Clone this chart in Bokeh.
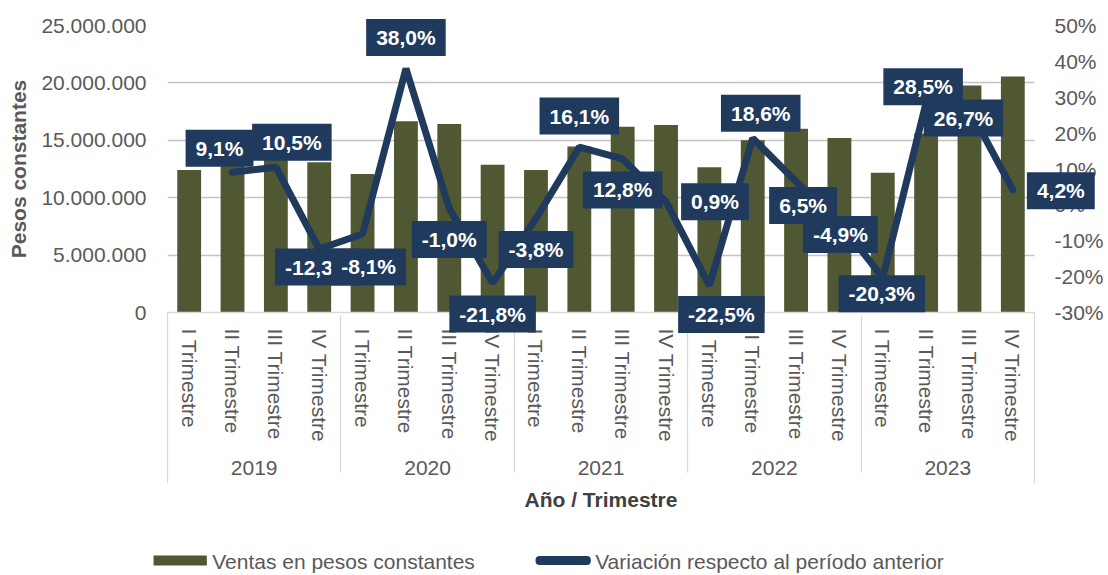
from bokeh.plotting import figure
from bokeh.models import (FactorRange, Range1d, LinearAxis, FixedTicker, ColumnDataSource)
from bokeh.core.properties import value
from bokeh.embed import file_html
from bokeh.resources import INLINE

# ---------------- data ----------------
years = ["2019", "2020", "2021", "2022", "2023"]
quarters = ["I Trimestre", "II Trimestre", "III Trimestre", "IV Trimestre"]

ventas = [12420000, 12950000, 13650000, 13080000,
          12070000, 16660000, 16430000, 12860000,
          12420000, 14450000, 16190000, 16340000,
          12650000, 15000000, 16000000, 15200000,
          12180000, 15600000, 19770000, 20550000]

# variation vs previous period (from 2019 II onwards), in %
variacion = [9.1, 10.5, -12.3, -8.1, 38.0, -1.0, -21.8, -3.8, 16.1, 12.8,
             0.9, -22.5, 18.6, 6.5, -4.9, -20.3, 28.5, 26.7, 4.2]

left_ticks = [0, 5000000, 10000000, 15000000, 20000000, 25000000]
left_tick_labels = ["0", "5.000.000", "10.000.000", "15.000.000", "20.000.000", "25.000.000"]
right_ticks = [-30, -20, -10, 0, 10, 20, 30, 40, 50]
right_tick_labels = ["-30%", "-20%", "-10%", "0%", "10%", "20%", "30%", "40%", "50%"]

series_names = ["Ventas en pesos constantes", "Variación respecto al período anterior"]

# data-label placement (screen px offsets from each point), like Excel label positions
label_dx = [-13, 16, -1, 6, 0, 0, 0, 0, 0, 0, 49, 12, 8, 7, 1, -1, -3, -6, 48]
label_dy = [-24, -25, 18, 33, -31, 31, 31, 31, -31, 31, 0, 29, -25, 24, 12, 16, -16, 9, 1]

# ---------------- styles ----------------
OLIVE = "#4F5833"
NAVY = "#203A5E"
GRAY = "#595959"
LIGHT = "#D9D9D9"
FONT = "Liberation Sans"

factors = [(y, q) for y in years for q in quarters]

p = figure(width=1108, height=575,
           x_range=FactorRange(factors=factors, group_padding=0, factor_padding=0,
                               range_padding=0),
           y_range=Range1d(0, 25000000),
           output_backend="svg", toolbar_location=None,
           min_border_left=167, min_border_right=74, min_border_top=25,
           min_border_bottom=263)
p.extra_y_ranges = {"pct": Range1d(-30, 50)}
p.outline_line_color = None
p.background_fill_color = "white"

bars = p.vbar(x=factors, top=ventas, width=0.55, fill_color=OLIVE, line_color=None)

line = p.line(x=factors[1:], y=variacion, y_range_name="pct", line_width=7,
              line_color=NAVY, line_cap="round")

lab_src = ColumnDataSource(dict(
    x=factors[1:], y=variacion,
    text=[("%.1f" % v).replace(".", ",") + "%" for v in variacion],
    dx=label_dx, dy=label_dy))
p.text(x="x", y="y", text="text", source=lab_src, y_range_name="pct",
       x_offset="dx", y_offset="dy", text_align="center", text_baseline="middle",
       text_color="white", text_font=value(FONT), text_font_style="bold",
       text_font_size="21px", background_fill_color=NAVY,
       padding=dict(left=10, right=10, top=7, bottom=7), level="overlay")

# outer separators of the category axis (at both ends of the x range)
p.text(x=[0, len(factors)], y=[0, 0], text=[" ", " "], text_font_size="1px",
       x_offset=[0, 0], y_offset=[85, 85], text_align="center", text_baseline="middle",
       background_fill_color=LIGHT,
       padding=dict(left=0, right=1, top=85, bottom=85), level="overlay")

# ---- legend (drawn below the axis, anchored on the first category at y=0) ----
anchor_x = [factors[0]]
anchor_y = [0]
# swatches: bar (rectangle) and line (thick rounded stroke)
p.text(x=anchor_x, y=anchor_y, text=[" "],
       x_offset=[-9], y_offset=[248],
       text_align="center", text_baseline="middle", text_font_size="1px",
       background_fill_color=OLIVE,
       padding=dict(left=26, right=27, top=5, bottom=4), level="overlay")
p.text(x=anchor_x, y=anchor_y, text=[" "],
       x_offset=[374], y_offset=[248],
       text_align="center", text_baseline="middle", text_font_size="1px",
       background_fill_color=NAVY, border_radius=4,
       padding=dict(left=27, right=28, top=4, bottom=4), level="overlay")
# labels
p.text(x=anchor_x * 2, y=anchor_y * 2, text=series_names,
       x_offset=[23, 406], y_offset=[249, 249],
       text_align="left", text_baseline="middle", text_color=GRAY,
       text_font=value(FONT), text_font_size="21px", level="overlay")

# grid
p.xgrid.grid_line_color = None
p.ygrid.grid_line_color = "#C4C4C4"
p.ygrid.grid_line_width = 1.5

# left axis
la = p.left[0]
la.ticker = FixedTicker(ticks=left_ticks)
la.major_label_overrides = dict(zip(left_ticks, left_tick_labels))
la.axis_line_color = None
la.major_tick_line_color = None
la.minor_tick_line_color = None
la.major_tick_out = 0
la.major_tick_in = 0
la.minor_tick_out = 0
la.major_label_text_font_size = "21px"
la.major_label_text_color = GRAY
la.major_label_text_font = FONT
la.major_label_standoff = 21
la.axis_label = "Pesos constantes"
la.axis_label_text_font_size = "21px"
la.axis_label_text_font_style = "bold"
la.axis_label_text_color = GRAY
la.axis_label_text_font = FONT
la.axis_label_standoff = 8

# right axis
ra = LinearAxis(y_range_name="pct")
ra.ticker = FixedTicker(ticks=right_ticks)
ra.major_label_overrides = dict(zip(right_ticks, right_tick_labels))
ra.axis_line_color = None
ra.major_tick_line_color = None
ra.minor_tick_line_color = None
ra.major_tick_out = 0
ra.major_tick_in = 0
ra.minor_tick_out = 0
ra.major_label_text_font_size = "21px"
ra.major_label_text_color = GRAY
ra.major_label_text_font = FONT
ra.major_label_standoff = 20
p.add_layout(ra, "right")

# x axis
xa = p.xaxis[0]
xa.axis_line_color = LIGHT
xa.axis_line_width = 1.3
xa.major_tick_line_color = None
xa.minor_tick_line_color = None
xa.major_tick_out = 0
xa.major_tick_in = 0
xa.major_label_orientation = "vertical"
xa.major_label_text_font_size = "21px"
xa.major_label_text_color = GRAY
xa.major_label_text_font = FONT
xa.major_label_standoff = 16
xa.group_text_font_size = "21px"
xa.group_text_color = GRAY
xa.group_text_font_style = "normal"
xa.group_text_font = FONT
xa.separator_line_color = LIGHT
xa.separator_line_width = 1.3
xa.axis_label = "Año / Trimestre"
xa.axis_label_text_font_size = "21px"
xa.axis_label_text_font_style = "bold"
xa.axis_label_text_color = "#404040"
xa.axis_label_text_font = FONT
xa.axis_label_standoff = 10

open("out.html", "w").write(file_html(p, INLINE))
